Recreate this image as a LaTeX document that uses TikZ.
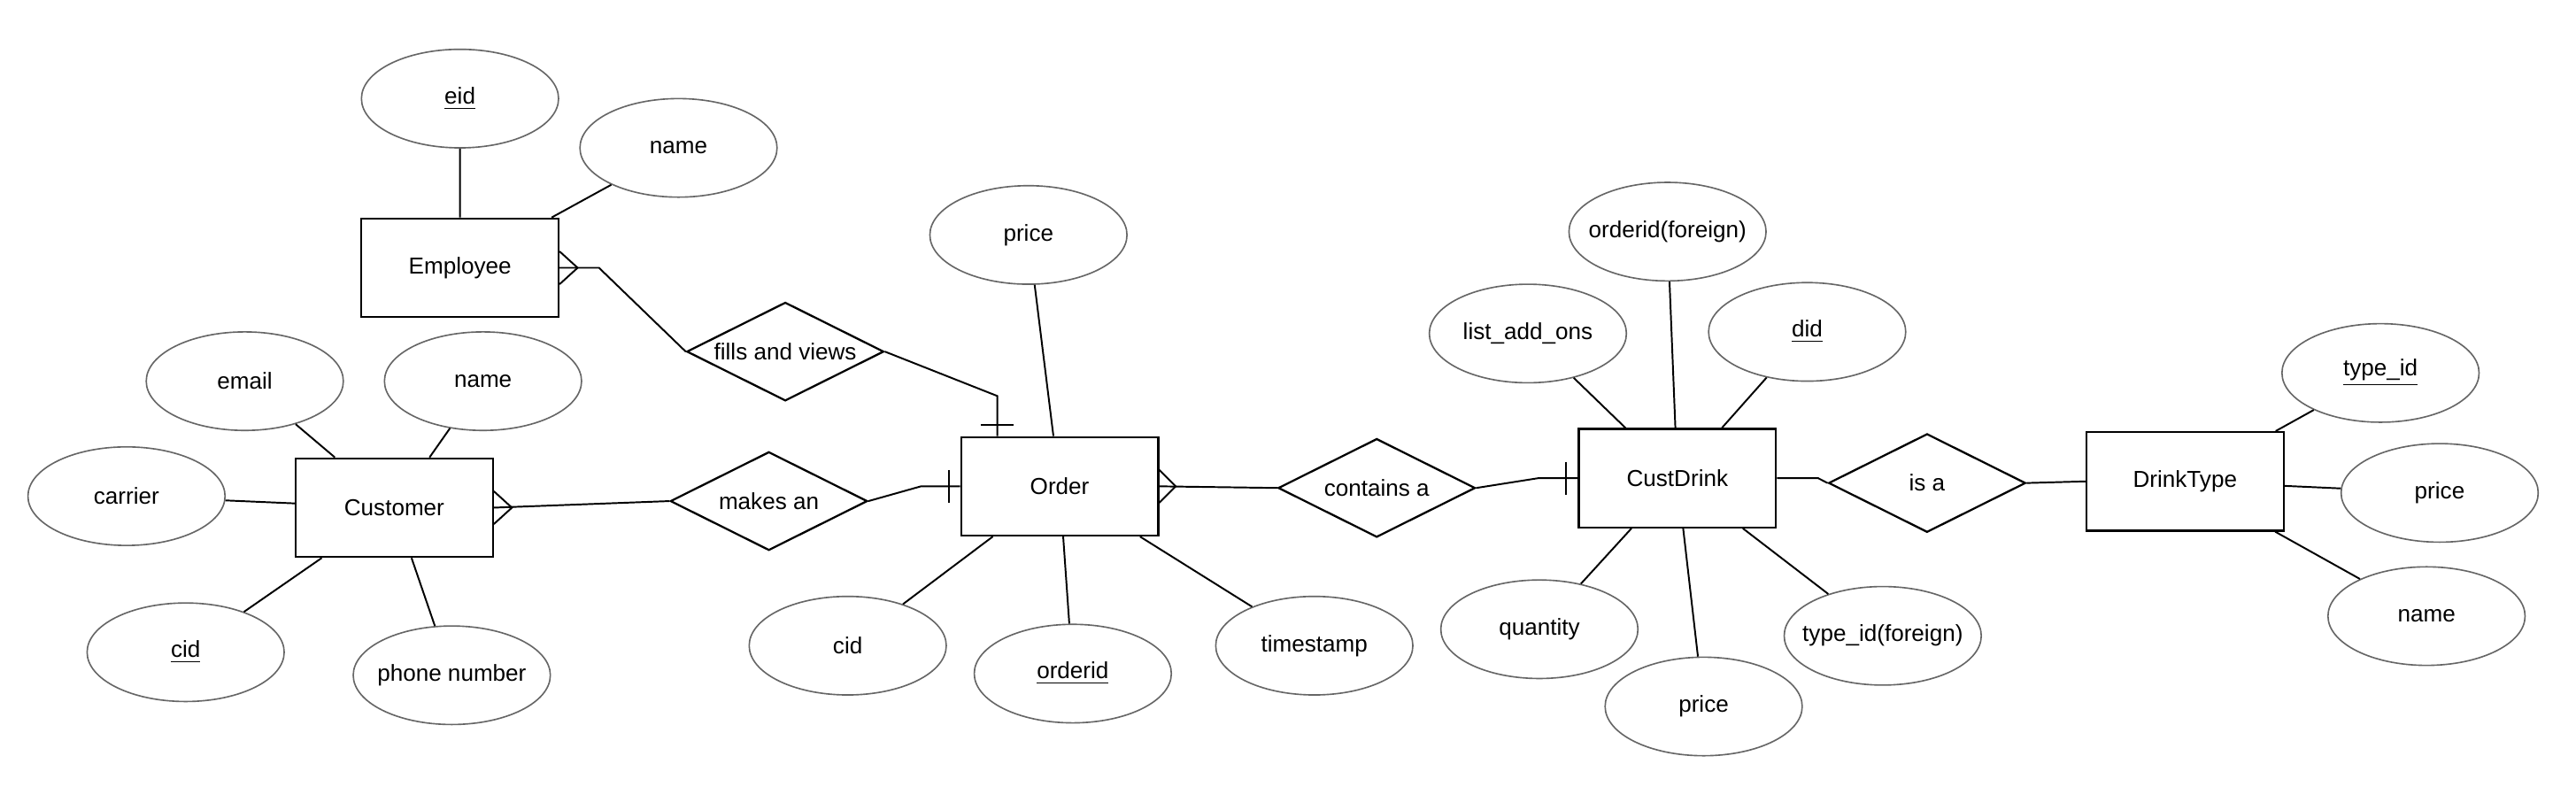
\documentclass[tikz,border=0pt]{standalone}
\usepackage{fontspec}
\setmainfont{Liberation Sans}
\usetikzlibrary{shapes.geometric,calc}
\tikzstyle{l1}=[line width=0.6pt]
\tikzstyle{entity}=[rectangle, draw=black, line width=0.7pt, minimum width=2.4cm, minimum height=1.2cm, inner sep=0pt, font=\fontsize{8}{9.6}\selectfont]
\tikzstyle{attr}=[ellipse, draw=black!60, line width=0.5pt, minimum width=2.4cm, minimum height=1.2cm, inner xsep=-12pt, inner ysep=0pt, font=\fontsize{8}{9.6}\selectfont]
\tikzstyle{rel}=[diamond, aspect=2, draw=black, line width=0.7pt, minimum width=2.4cm, minimum height=1.2cm, inner sep=0pt, font=\fontsize{8}{9.6}\selectfont]

\begin{document}
\begin{tikzpicture}[x=0.02cm, y=-0.02cm]
    \useasboundingbox (0,0) rectangle (1568,492.5);
    \node (emp) [entity] at (280,163) {Employee};
    \node (cust) [entity] at (240,309) {Customer};
    \node (ord) [entity] at (645,296) {Order};
    \node (cd) [entity] at (1021,291) {CustDrink};
    \node (dt) [entity] at (1330,293) {DrinkType};

    \node (r1) [rel] at (478,214) {fills and views};
    \node (r2) [rel] at (468,305) {makes an};
    \node (r3) [rel] at (838,297) {contains a};
    \node (r4) [rel] at (1173,294) {is a};

    \node (e1) [attr] at (280,60) {\underline{eid}};
    \node (e2) [attr] at (413,90) {name};
    \node (c1) [attr] at (149,232) {email};
    \node (c2) [attr] at (294,232) {name};
    \node (c3) [attr] at (77,302) {carrier};
    \node (c4) [attr] at (113,397) {\underline{cid}};
    \node (c5) [attr] at (275,411) {phone number};
    \node (o1) [attr] at (626,143) {price};
    \node (o2) [attr] at (516,393) {cid};
    \node (o3) [attr] at (653,410) {\underline{orderid}};
    \node (o4) [attr] at (800,393) {timestamp};
    \node (d1) [attr] at (930,203) {list\_add\_ons};
    \node (d2) [attr] at (1015,141) {orderid(foreign)};
    \node (d3) [attr] at (1100,202) {\underline{did}};
    \node (d4) [attr] at (937,383) {quantity};
    \node (d5) [attr] at (1037,430) {price};
    \node (d6) [attr] at (1146,387) {type\_id(foreign)};
    \node (t1) [attr] at (1449,227) {\underline{type\_id}};
    \node (t2) [attr] at (1485,300) {price};
    \node (t3) [attr] at (1477,375) {name};

    \draw[l1] (e1) -- (emp) -- (e2);
    \draw[l1] (c1) -- (cust) -- (c2) (c3) -- (cust) -- (c4) (cust) -- (c5);
    \draw[l1] (o1) -- (ord) -- (o2) (o3) -- (ord) -- (o4);
    \draw[l1] (d1) -- (cd) -- (d2) (d3) -- (cd) -- (d4) (d5) -- (cd) -- (d6);
    \draw[l1] (t1) -- (dt) -- (t2) (t3) -- (dt);

    \draw[l1] (emp.east) -- ++(24,0) -- (r1.west);
    \draw[l1] (emp.east) ++(0,-10) -- ++(11,10) -- ++(-11,10);
    \coordinate (f1) at (607,241);
    \draw[l1] (r1.east) -- (f1) -- (f1 |- ord.north);
    \draw[l1] (f1 |- ord.north) ++(-10,-7) -- ++(20,0);

    \draw[l1] (cust.east) -- (r2.west);
    \draw[l1] (cust.east) ++(0,-10) -- ++(11,10) -- ++(-11,10);
    \draw[l1] (r2.east) -- ++(32,-9) -- (ord.west);
    \draw[l1] (ord.west) ++(-7,-10) -- ++(0,20);

    \draw[l1] (ord.east) -- (r3.west);
    \draw[l1] (ord.east) ++(0,-10) -- ++(10,10) -- ++(-10,10);
    \draw[l1] (r3.east) -- ++(38,-6) -- (cd.west);
    \draw[l1] (cd.west) ++(-7,-10) -- ++(0,20);

    \draw[l1] (cd.east) -- ++(25,0) -- (r4.west);
    \draw[l1] (r4.east) -- (dt.west);
\end{tikzpicture}
\end{document}
